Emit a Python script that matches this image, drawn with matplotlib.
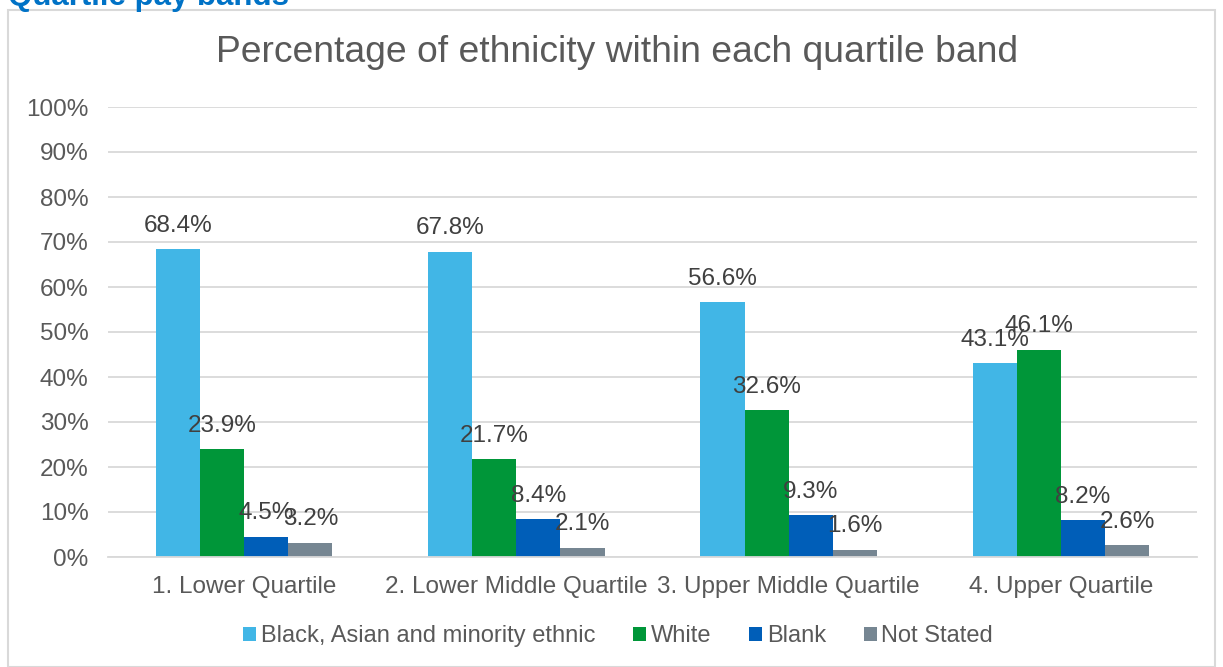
import numpy as np
import matplotlib.pyplot as plt
from matplotlib.patches import Rectangle

plt.rcParams['font.family'] = ['Liberation Sans', 'DejaVu Sans']

quartiles = ['1. Lower Quartile', '2. Lower Middle Quartile',
             '3. Upper Middle Quartile', '4. Upper Quartile']
groups = ['Black, Asian and minority ethnic', 'White', 'Blank', 'Not Stated']
bame = [68.4, 67.8, 56.6, 43.1]
white = [23.9, 21.7, 32.6, 46.1]
blank = [4.5, 8.4, 9.3, 8.2]
not_stated = [3.2, 2.1, 1.6, 2.6]
yticks = np.arange(0, 101, 10)

series = [bame, white, blank, not_stated]
colors = ['#41B6E6', '#009639', '#005EB8', '#768692']
text_grey = '#595959'
label_grey = '#404040'

W, H = 1223, 667
fig = plt.figure(figsize=(W / 100, H / 100), dpi=100)

# outer frame and the heading above it
fig.patches.append(Rectangle((8 / W, 0), 1207 / W, 1 - 10 / H, transform=fig.transFigure,
                             fill=False, edgecolor='#d9d9d9', linewidth=1.5))
fig.text(8 / W, 1 - 5 / H, 'Quartile pay bands', color='#0072C6', fontsize=22.5,
         fontweight='bold', va='baseline', ha='left')

ax = fig.add_axes([108 / W, 1 - 557 / H, 1089 / W, 450 / H])

x = np.arange(len(quartiles))
width = 0.162
for i, (vals, col, name) in enumerate(zip(series, colors, groups)):
    pos = x + (i - 1.5) * width
    ax.bar(pos, vals, width, color=col, label=name, zorder=2)
    for px, v in zip(pos, vals):
        ax.text(px, v + 3.9, f'{v}%', ha='center', va='baseline',
                fontsize=17.5, color=label_grey, zorder=3)

ax.set_xlim(-0.5, len(quartiles) - 0.5)
ax.set_ylim(0, 100)
ax.set_yticks(yticks)
ax.set_yticklabels([f'{t}%' for t in yticks])
ax.set_xticks(x)
ax.set_xticklabels(quartiles)
ax.tick_params(length=0, labelsize=17.5, labelcolor=text_grey)
ax.tick_params(axis='y', pad=14)
ax.tick_params(axis='x', pad=14)
ax.grid(axis='y', color='#d9d9d9', linewidth=1.3, zorder=0)
for side in ['top', 'right', 'left']:
    ax.spines[side].set_visible(False)
ax.spines['bottom'].set_color('#d9d9d9')
ax.spines['bottom'].set_linewidth(1.3)

fig.text(617 / W, 1 - 52 / H, 'Percentage of ethnicity within each quartile band',
         ha='center', va='center', fontsize=26.8, color=text_grey)

fig.legend(loc='center', bbox_to_anchor=(618 / W, 1 - 636 / H), ncol=4, frameon=False,
           fontsize=17, labelcolor=text_grey, handlelength=0.55, handleheight=0.55,
           handletextpad=0.2, columnspacing=1.6)

fig.savefig('out.png', dpi=100)
